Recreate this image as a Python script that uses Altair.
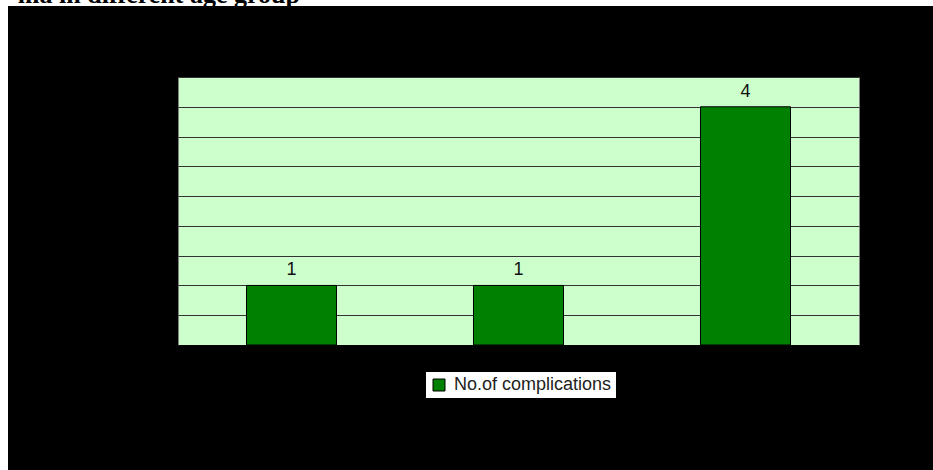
import altair as alt
import pandas as pd

# ---- data ----
age_groups = ["< 20 years", "20-40 years", "> 40 years"]
complications = [1, 1, 4]
series_name = "No.of complications"
y_ticks = [0, 0.5, 1, 1.5, 2, 2.5, 3, 3.5, 4, 4.5]
title_text = "ma in different age group"

df = pd.DataFrame({
    "age": age_groups,
    "n": complications,
    "series": [series_name] * len(age_groups),
})
one = pd.DataFrame({"k": [0]})

x_enc = alt.X(
    "age:N", sort=age_groups,
    scale=alt.Scale(paddingInner=0.6035, paddingOuter=0.3018),
    axis=alt.Axis(title=None, labelColor="black", domainColor="black",
                  tickColor="black", labelAngle=0, labelFontSize=14),
)
y_enc = alt.Y(
    "n:Q", scale=alt.Scale(domain=[0, 4.5], nice=False),
    axis=alt.Axis(values=y_ticks, title=None, labelColor="black",
                  domain=False, ticks=False, gridColor="#333333",
                  gridWidth=1, gridOpacity=1, labelFontSize=14,
                  labelOverlap=False, labelFlush=False),
)

bars = alt.Chart(df).mark_bar(stroke="black", strokeWidth=1).encode(
    x=x_enc,
    y=y_enc,
    color=alt.Color(
        "series:N",
        scale=alt.Scale(range=["#008000"]),
        legend=alt.Legend(
            title=None, orient="none", legendX=248, legendY=295,
            fillColor="white", padding=4, symbolType="square",
            symbolSize=144, symbolStrokeColor="black", symbolStrokeWidth=1,
            labelFont="Liberation Sans", labelFontSize=18, labelColor="#222222",
            labelOffset=6,
        ),
    ),
)

labels = alt.Chart(df).mark_text(
    dy=-6, baseline="bottom", fontSize=18, font="Liberation Sans", color="#111111"
).encode(x=x_enc, y=y_enc, text="n:Q")

top_strip = alt.Chart(one).mark_rect(color="white").encode(
    x=alt.value(-178), x2=alt.value(755), y=alt.value(-77), y2=alt.value(-71)
)
left_strip = alt.Chart(one).mark_rect(color="white").encode(
    x=alt.value(-178), x2=alt.value(-170), y=alt.value(-77), y2=alt.value(393)
)
title = alt.Chart(one).mark_text(
    text=title_text, font="Liberation Serif", fontWeight="bold", fontSize=26,
    align="right", baseline="alphabetic", color="black"
).encode(x=alt.value(122), y=alt.value(-74))

chart = alt.layer(bars, labels, top_strip, left_strip, title).properties(
    width=681, height=268,
    background="#000000",
    padding={"left": 178, "top": 77, "right": 74, "bottom": 125},
    autosize="none",
).configure_view(fill="#CCFFCC", stroke="#808080", strokeWidth=1)

chart.save("out.html", embed_options={"renderer": "svg", "actions": False})
